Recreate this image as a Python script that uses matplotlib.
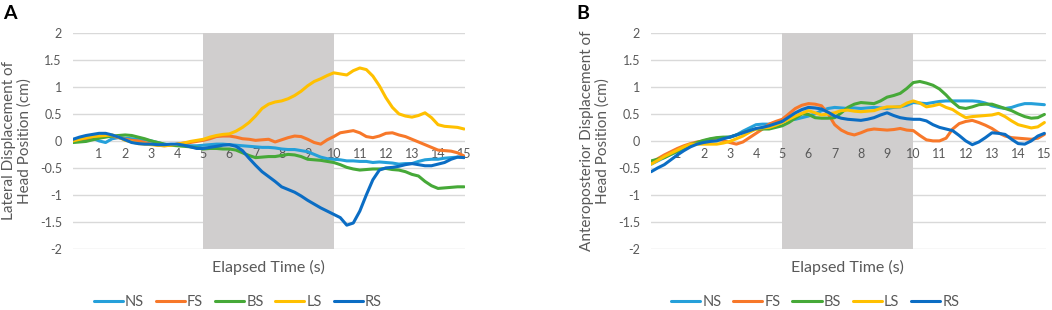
import numpy as np
import matplotlib
matplotlib.use('Agg')
import matplotlib.pyplot as plt

plt.rcParams['font.family'] = ['Lato', 'DejaVu Sans']

# elapsed time, 0.25 s steps
t = np.arange(61) * 0.25

# Panel A: lateral displacement (cm), one row per second
NS_A = [0.01, 0.04, 0.06, 0.05,  0.00, -0.03, 0.04, 0.06,  0.05, 0.04, 0.03, 0.02,
        0.00, -0.03, -0.06, -0.07,  -0.07, -0.08, -0.09, -0.09,  -0.08, -0.07, -0.06, -0.06,
        -0.07, -0.08, -0.09, -0.10,  -0.11, -0.12, -0.12, -0.13,  -0.15, -0.16, -0.16, -0.18,
        -0.20, -0.25, -0.30, -0.33,  -0.34, -0.35, -0.37, -0.37,  -0.38, -0.38, -0.40, -0.39,
        -0.40, -0.41, -0.43, -0.42,  -0.42, -0.38, -0.35, -0.34,  -0.34, -0.32, -0.31, -0.30,
        -0.30]
FS_A = [-0.01, 0.01, 0.03, 0.05,  0.07, 0.08, 0.09, 0.06,  0.03, 0.01, 0.00, -0.03,
        -0.06, -0.08, -0.09, -0.08,  -0.06, -0.04, -0.03, -0.01,  0.01, 0.04, 0.08, 0.09,
        0.09, 0.07, 0.04, 0.03,  0.01, 0.02, 0.03, -0.02,  0.02, 0.06, 0.09, 0.08,
        0.03, -0.03, -0.06, 0.02,  0.08, 0.15, 0.17, 0.19,  0.15, 0.08, 0.06, 0.09,
        0.14, 0.15, 0.11, 0.08,  0.03, -0.02, -0.07, -0.12,  -0.17, -0.18, -0.19, -0.22,
        -0.28]
BS_A = [-0.03, -0.02, -0.01, 0.02,  0.05, 0.07, 0.09, 0.10,  0.11, 0.10, 0.07, 0.04,
        0.00, -0.03, -0.06, -0.08,  -0.09, -0.10, -0.11, -0.13,  -0.15, -0.14, -0.14, -0.15,
        -0.15, -0.17, -0.22, -0.27,  -0.31, -0.30, -0.29, -0.29,  -0.27, -0.25, -0.26, -0.29,
        -0.34, -0.35, -0.36, -0.38,  -0.40, -0.44, -0.49, -0.52,  -0.54, -0.53, -0.52, -0.52,
        -0.51, -0.53, -0.54, -0.57,  -0.62, -0.65, -0.75, -0.83,  -0.88, -0.87, -0.86, -0.85,
        -0.85]
LS_A = [0.00, 0.03, 0.06, 0.08,  0.09, 0.10, 0.11, 0.07,  0.01, -0.02, -0.05, -0.06,
        -0.07, -0.08, -0.09, -0.08,  -0.06, -0.04, -0.01, 0.01,  0.03, 0.07, 0.10, 0.12,
        0.13, 0.18, 0.25, 0.34,  0.46, 0.60, 0.68, 0.72,  0.74, 0.78, 0.84, 0.92,
        1.02, 1.10, 1.15, 1.21,  1.26, 1.24, 1.22, 1.30,  1.35, 1.32, 1.20, 1.02,
        0.80, 0.62, 0.50, 0.46,  0.44, 0.47, 0.52, 0.43,  0.30, 0.27, 0.26, 0.25,
        0.22]
RS_A = [0.03, 0.07, 0.10, 0.12,  0.14, 0.14, 0.11, 0.07,  0.02, -0.03, -0.05, -0.06,
        -0.06, -0.07, -0.07, -0.06,  -0.06, -0.08, -0.11, -0.14,  -0.14, -0.12, -0.10, -0.08,
        -0.07, -0.10, -0.18, -0.32,  -0.45, -0.57, -0.66, -0.75,  -0.85, -0.90, -0.95, -1.02,
        -1.10, -1.17, -1.24, -1.30,  -1.36, -1.42, -1.56, -1.52,  -1.30, -1.00, -0.72, -0.54,
        -0.50, -0.49, -0.47, -0.44,  -0.42, -0.44, -0.46, -0.46,  -0.43, -0.40, -0.34, -0.30,
        -0.31]

# Panel B: anteroposterior displacement (cm)
NS_B = [-0.43, -0.37, -0.31, -0.25,  -0.20, -0.14, -0.09, -0.04,  0.00, 0.03, 0.05, 0.06,
        0.07, 0.11, 0.18, 0.24,  0.30, 0.31, 0.31, 0.34,  0.37, 0.39, 0.40, 0.43,
        0.46, 0.50, 0.56, 0.60,  0.62, 0.61, 0.60, 0.61,  0.60, 0.61, 0.62, 0.61,
        0.60, 0.62, 0.63, 0.66,  0.71, 0.70, 0.69, 0.71,  0.73, 0.74, 0.74, 0.74,
        0.74, 0.74, 0.73, 0.70,  0.65, 0.62, 0.60, 0.62,  0.66, 0.69, 0.69, 0.68,
        0.67]
FS_B = [-0.40, -0.33, -0.26, -0.20,  -0.14, -0.09, -0.05, -0.02,  0.00, 0.02, 0.03, 0.01,
        -0.03, -0.06, -0.02, 0.06,  0.14, 0.22, 0.31, 0.36,  0.40, 0.50, 0.60, 0.66,
        0.69, 0.68, 0.65, 0.50,  0.30, 0.20, 0.14, 0.11,  0.15, 0.20, 0.22, 0.21,
        0.20, 0.21, 0.23, 0.20,  0.19, 0.10, 0.02, 0.00,  0.00, 0.05, 0.22, 0.32,
        0.36, 0.38, 0.34, 0.29,  0.23, 0.15, 0.09, 0.06,  0.05, 0.04, 0.03, 0.05,
        0.12]
BS_B = [-0.37, -0.34, -0.31, -0.25,  -0.19, -0.13, -0.07, -0.03,  0.01, 0.04, 0.06, 0.07,
        0.07, 0.11, 0.15, 0.19,  0.22, 0.22, 0.22, 0.25,  0.28, 0.34, 0.42, 0.50,
        0.49, 0.43, 0.42, 0.42,  0.43, 0.52, 0.62, 0.68,  0.71, 0.70, 0.69, 0.74,
        0.81, 0.84, 0.88, 0.97,  1.08, 1.10, 1.07, 1.03,  0.96, 0.85, 0.72, 0.62,
        0.60, 0.63, 0.67, 0.68,  0.68, 0.64, 0.60, 0.56,  0.50, 0.45, 0.42, 0.43,
        0.49]
LS_B = [-0.43, -0.36, -0.29, -0.23,  -0.17, -0.11, -0.06, -0.06,  -0.06, -0.06, -0.06, -0.04,
        -0.01, 0.04, 0.09, 0.16,  0.22, 0.24, 0.25, 0.29,  0.34, 0.40, 0.46, 0.51,
        0.56, 0.52, 0.48, 0.50,  0.52, 0.56, 0.57, 0.55,  0.54, 0.55, 0.56, 0.60,
        0.63, 0.63, 0.63, 0.70,  0.74, 0.70, 0.63, 0.65,  0.68, 0.62, 0.58, 0.50,
        0.43, 0.45, 0.46, 0.47,  0.48, 0.51, 0.45, 0.37,  0.30, 0.27, 0.24, 0.26,
        0.34]
RS_B = [-0.57, -0.50, -0.44, -0.35,  -0.26, -0.18, -0.11, -0.06,  -0.03, -0.01, 0.00, 0.04,
        0.07, 0.11, 0.15, 0.19,  0.23, 0.25, 0.28, 0.32,  0.36, 0.44, 0.52, 0.58,
        0.62, 0.61, 0.59, 0.53,  0.46, 0.42, 0.40, 0.39,  0.38, 0.40, 0.43, 0.48,
        0.52, 0.47, 0.43, 0.41,  0.40, 0.40, 0.37, 0.30,  0.25, 0.22, 0.19, 0.10,
        0.00, -0.07, -0.02, 0.06,  0.15, 0.14, 0.12, 0.03,  -0.05, -0.06, 0.00, 0.09,
        0.14]

names = ['NS', 'FS', 'BS', 'LS', 'RS']
colors = ['#25A0DA', '#F7782A', '#46A938', '#FFC000', '#0B6DC4']
yticks = [-2, -1.5, -1, -0.5, 0, 0.5, 1, 1.5, 2]
ytick_labels = ['-2', '-1.5', '-1', '-0.5', '0', '0.5', '1', '1.5', '2']
xticks = list(range(1, 16))

grey = '#595959'


def draw_panel(fig, rect, series, ylabel, letter, letter_x, legend_x):
    ax = fig.add_axes(rect)
    # gridlines drawn by hand so the grey band can cover them
    for y in yticks:
        ax.axhline(y, color='#D9D9D9', lw=1, zorder=0.5)
    ax.axvspan(5, 10, color='#D0CECE', lw=0, zorder=1)   # stimulus window
    for vals, name, c in zip(series, names, colors):
        ax.plot(t, vals, color=c, lw=2.2, label=name, zorder=2,
                solid_joinstyle='round', solid_capstyle='round')
    ax.set_xlim(0, 15.05)
    ax.set_ylim(-2, 2)
    ax.set_yticks(yticks)
    ax.set_yticklabels(ytick_labels)
    ax.set_xticks(xticks)
    ax.set_xticklabels([str(k) for k in xticks])
    for s in ax.spines.values():
        s.set_visible(False)
    ax.spines['bottom'].set_position(('data', 0))   # labels sit under the zero line
    ax.tick_params(length=0, labelsize=9, colors=grey)
    ax.tick_params(axis='y', pad=8)
    ax.tick_params(axis='x', pad=5)
    ax.set_ylabel(ylabel, fontsize=11, color=grey, linespacing=1.1, labelpad=6)
    ax.text(7.5, -2.2, 'Elapsed Time (s)', ha='center', va='top', fontsize=11.5, color=grey)
    fig.text(letter_x, 0.985, letter, fontsize=14, fontweight='bold', va='top')
    fig.legend(*ax.get_legend_handles_labels(), loc='center', ncol=5,
               bbox_to_anchor=(legend_x, 0.025), frameon=False, fontsize=10.5,
               handlelength=2.0, handletextpad=0.15, columnspacing=0.8,
               labelcolor=grey)
    return ax


def main():
    fig = plt.figure(figsize=(10.52, 3.10), dpi=100)
    draw_panel(fig, [0.0694, 0.197, 0.373, 0.697], [NS_A, FS_A, BS_A, LS_A, RS_A],
               'Lateral Displacement of\nHead Position (cm)', 'A', 0.003, 0.226)
    draw_panel(fig, [0.619, 0.197, 0.375, 0.697], [NS_B, FS_B, BS_B, LS_B, RS_B],
               'Anteroposterior Displacement of\nHead Position (cm)', 'B', 0.548, 0.775)
    fig.savefig('out.png', dpi=100)


main()
